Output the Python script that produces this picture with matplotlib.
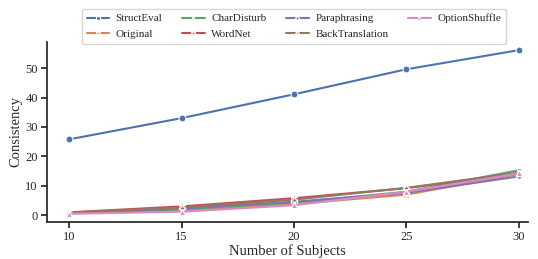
import matplotlib
matplotlib.use("Agg")
import matplotlib.pyplot as plt
import seaborn as sns

subjects = [10, 15, 20, 25, 30]
structEval = [25.8, 33.0, 41.1, 49.6, 56.1]
original = [0.7, 1.5, 3.8, 7.0, 14.0]
charDisturb = [0.8, 2.0, 4.3, 8.0, 15.3]
wordNet = [1.0, 3.0, 5.8, 9.2, 14.2]
paraphrasing = [0.7, 2.3, 4.6, 7.6, 13.2]
backTranslation = [0.9, 2.6, 5.3, 9.3, 14.5]
optionShuffle = [0.5, 1.2, 3.4, 8.0, 14.2]

series = [
    ("StructEval", structEval, "o"),
    ("Original", original, "X"),
    ("CharDisturb", charDisturb, (4, 0, 45)),
    ("WordNet", wordNet, "P"),
    ("Paraphrasing", paraphrasing, (4, 0, 0)),
    ("BackTranslation", backTranslation, (4, 1, 0)),
    ("OptionShuffle", optionShuffle, "^"),
]

sns.set_theme(style="ticks")
plt.rcParams["font.family"] = ["Liberation Serif", "DejaVu Serif"]

colors = sns.color_palette("deep")
fig, ax = plt.subplots(figsize=(5.38, 2.59), dpi=100)
for i, (name, vals, m) in enumerate(series):
    ax.plot(subjects, vals, marker=m, color=colors[i], label=name,
            markersize=5, markeredgecolor="white", markeredgewidth=0.8, linewidth=1.5)

ax.set_xticks(subjects)
ax.set_xlim(9, 30.4)
ax.set_xlabel("Number of Subjects", fontsize=10.5, labelpad=1)
ax.set_ylabel("Consistency", fontsize=10.5, labelpad=2)
ax.tick_params(labelsize=9, length=4, pad=2.5)
sns.despine(ax=ax)
ax.legend(loc="upper center", bbox_to_anchor=(0.546, 0.988), bbox_transform=fig.transFigure,
          ncol=4, fontsize=8, frameon=True, handlelength=2.0, handletextpad=0.6,
          columnspacing=1.8, labelspacing=0.5, borderpad=0.45, markerscale=0.6)
fig.subplots_adjust(left=0.087, right=0.981, top=0.838, bottom=0.143)
fig.savefig("out.png", dpi=100)
